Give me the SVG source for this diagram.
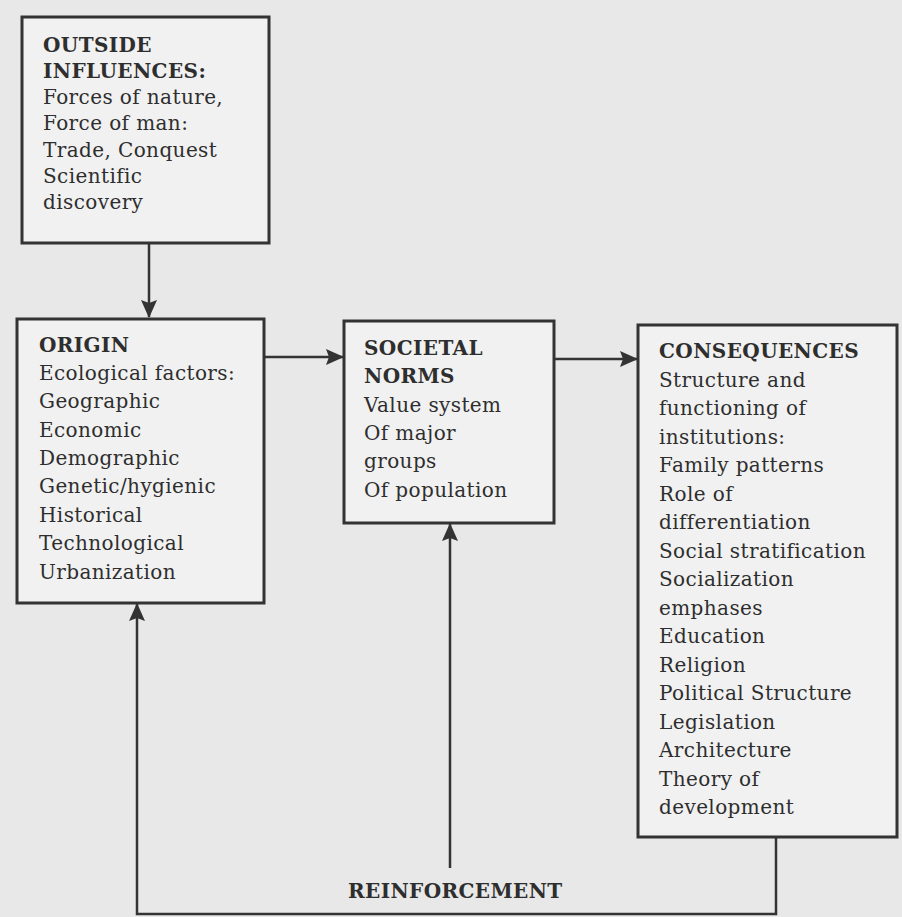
<svg xmlns="http://www.w3.org/2000/svg" width="902" height="917" viewBox="0 0 902 917">
<defs>
<marker id="arr" viewBox="0 0 18 16" refX="17" refY="8" markerWidth="18" markerHeight="16" markerUnits="userSpaceOnUse" orient="auto">
<path d="M0,0 L18,8 L0,16 L3,8 z" fill="#333"/>
</marker>
<style>
.box{fill:#f1f1f1;stroke:#333;stroke-width:3}
.t{font-family:"DejaVu Serif","Liberation Serif",serif;font-size:20px;letter-spacing:0.4px;fill:#2e2e2e}
.h{font-weight:bold}
.c{fill:none;stroke:#333;stroke-width:2.5}
</style>
</defs>
<rect x="0" y="0" width="902" height="917" fill="#e8e8e8"/>
<g id="outside-influences">
<rect class="box" x="22" y="17" width="247" height="226"/>
<text class="t"><tspan class="h" x="43" y="52">OUTSIDE</tspan><tspan class="h" x="43" y="78">INFLUENCES:</tspan><tspan x="43" y="104">Forces of nature,</tspan><tspan x="43" y="130">Force of man:</tspan><tspan x="43" y="157">Trade, Conquest</tspan><tspan x="43" y="183">Scientific</tspan><tspan x="43" y="209">discovery</tspan></text>
</g>
<g id="origin">
<rect class="box" x="17" y="319" width="247" height="284"/>
<text class="t"><tspan class="h" x="39" y="352">ORIGIN</tspan><tspan x="39" y="380">Ecological factors:</tspan><tspan x="39" y="408">Geographic</tspan><tspan x="39" y="437">Economic</tspan><tspan x="39" y="465">Demographic</tspan><tspan x="39" y="493">Genetic/hygienic</tspan><tspan x="39" y="522">Historical</tspan><tspan x="39" y="550">Technological</tspan><tspan x="39" y="579">Urbanization</tspan></text>
</g>
<g id="societal-norms">
<rect class="box" x="344" y="321" width="210" height="202"/>
<text class="t"><tspan class="h" x="364" y="355">SOCIETAL</tspan><tspan class="h" x="364" y="383">NORMS</tspan><tspan x="364" y="412">Value system</tspan><tspan x="364" y="440">Of major</tspan><tspan x="364" y="468">groups</tspan><tspan x="364" y="497">Of population</tspan></text>
</g>
<g id="consequences">
<rect class="box" x="638" y="325" width="259" height="512"/>
<text class="t"><tspan class="h" x="659" y="358">CONSEQUENCES</tspan><tspan x="659" y="387">Structure and</tspan><tspan x="659" y="415">functioning of</tspan><tspan x="659" y="444">institutions:</tspan><tspan x="659" y="472">Family patterns</tspan><tspan x="659" y="501">Role of</tspan><tspan x="659" y="529">differentiation</tspan><tspan x="659" y="558">Social stratification</tspan><tspan x="659" y="586">Socialization</tspan><tspan x="659" y="615">emphases</tspan><tspan x="659" y="643">Education</tspan><tspan x="659" y="672">Religion</tspan><tspan x="659" y="700">Political Structure</tspan><tspan x="659" y="729">Legislation</tspan><tspan x="659" y="757">Architecture</tspan><tspan x="659" y="786">Theory of</tspan><tspan x="659" y="814">development</tspan></text>
</g>
<g id="reinforcement-label">
<text class="t h" x="348" y="898">REINFORCEMENT</text>
</g>
<g id="connectors">
<line class="c" x1="149" y1="243" x2="149" y2="317" marker-end="url(#arr)"/>
<line class="c" x1="264" y1="357" x2="343" y2="357" marker-end="url(#arr)"/>
<line class="c" x1="554" y1="359" x2="637" y2="359" marker-end="url(#arr)"/>
<polyline class="c" points="776,837 776,914 137,914 137,604" marker-end="url(#arr)"/>
<line class="c" x1="450" y1="868" x2="450" y2="524" marker-end="url(#arr)"/>
</g>
</svg>
